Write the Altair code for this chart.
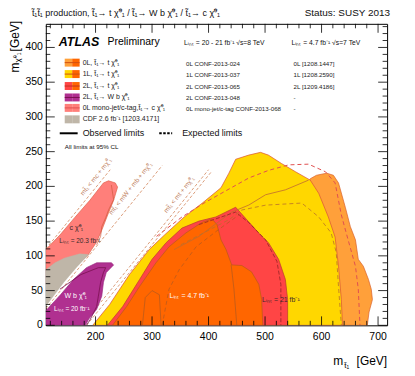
import altair as alt
import pandas as pd

FONT = "Liberation Sans"
W, H = 343, 303
XMIN, XMAX = 112, 716
YMIN, YMAX = 0, 434

T1 = "t\u0303\u2081"
CHI = "\u03c7\u0303\u2070\u2081"
LINT = "L\u1d62\u2099\u209c"
FB = "fb\u207b\u00b9"
ARR = "\u2192"

# ---------------- exclusion regions (GeV) ----------------
zl8_x = [580, 591, 609, 621, 630, 642, 651, 660, 665, 674, 683, 688, 690, 684, 681, 600, 590, 575]
zl8_y = [211, 216, 219, 216, 205, 170, 142, 123, 95, 85, 66, 52, 37, 19, 0, 0, 150, 205]
ol8_x = [195, 225, 260, 295, 322, 357, 389, 422, 436, 448, 471, 492, 506, 529, 554, 580, 595, 612, 624, 630, 635, 637]
ol8_y = [0, 30, 73, 109, 130, 156, 176, 198, 219, 239, 245, 249, 245, 233, 221, 209, 190, 156, 127, 85, 37, 0]
tl8_x = [221, 248, 278, 300, 325, 353, 383, 413, 448, 471, 492, 506, 524, 536, 540, 540]
tl8_y = [0, 27, 66, 95, 119, 140, 150, 156, 170, 149, 130, 119, 95, 66, 37, 0]
tev7_x = [230, 255, 278, 307, 330, 360, 388, 406, 415, 422, 431, 441, 459, 476, 489, 494, 496]
tev7_y = [0, 27, 56, 90, 113, 133, 148, 153, 145, 123, 109, 87, 86, 77, 59, 37, 0]
mono_x = [112, 137, 163, 190, 214, 223, 235, 239, 232, 223, 211, 202, 193, 186, 172, 145, 112]
mono_y = [109, 130, 155, 180, 205, 208, 205, 199, 180, 162, 137, 120, 109, 100, 92, 77, 59]
cdf_x = [112, 112, 128, 145, 172, 188, 167, 144, 121]
cdf_y = [27, 80, 90, 97, 103, 102, 84, 62, 37]
wb_x = [112, 138, 161, 184, 202, 228, 232, 219, 214, 211, 202, 188, 182, 112]
wb_y = [21, 44, 66, 83, 90, 90, 87, 76, 62, 42, 23, 9, 0, 0]

# ---------------- contour lines (GeV) ----------------
l1_x = [308, 353, 392, 427, 471, 506, 542, 577, 607, 624, 635, 647, 660, 665, 668]
l1_y = [128, 156, 176, 192, 212, 223, 231, 232, 221, 205, 159, 123, 85, 52, 0]
l2_x = [339, 383, 441, 471, 501, 536, 577]
l2_y = [109, 128, 163, 173, 188, 195, 209]
l3_x = [351, 436, 459, 501, 565, 595, 617, 626, 630, 635]
l3_y = [116, 152, 166, 173, 176, 156, 133, 105, 56, 0]
l4_x = [383, 448, 471, 501, 521, 528, 528]
l4_y = [145, 163, 148, 123, 92, 59, 0]
l5_x = [283, 288, 300, 313, 316]
l5_y = [0, 40, 50, 44, 0]
l6_x = [318, 330, 348, 378, 418, 454]
l6_y = [0, 52, 80, 113, 138, 159]
l9_x = [440, 445, 450]
l9_y = [87, 52, 0]
wbi_x = [137, 174, 205, 218, 214, 209, 205, 202, 191, 184]
wbi_y = [52, 73, 83, 83, 76, 62, 42, 27, 9, 0]
monoi_x = [228, 232, 223, 218, 211, 209, 202]
monoi_y = [202, 181, 166, 155, 142, 128, 116]

# kinematic boundaries (GeV endpoints)
kinA_x = [112, 226]; kinA_y = [110, 224]
kinB_x = [112, 318]; kinB_y = [24, 230]
kinC1_x = [176, 400]; kinC1_y = [0, 224]
kinC2_x = [184, 404]; kinC2_y = [0, 220]

x_major = [200, 300, 400, 500, 600, 700]
y_major = [0, 50, 100, 150, 200, 250, 300, 350, 400]

xs = alt.Scale(domain=[XMIN, XMAX], nice=False, zero=False)
ys = alt.Scale(domain=[YMIN, YMAX], nice=False, zero=False)
dummy = pd.DataFrame({"d": [0]})


def enc(ch):
    return ch.encode(x=alt.X("x:Q", scale=xs, axis=None),
                     y=alt.Y("y:Q", scale=ys, axis=None), order="i:Q")


def poly(xv, yv, fill, stroke, sw=0.7):
    xv = list(xv) + [xv[0]]
    yv = list(yv) + [yv[0]]
    df = pd.DataFrame({"x": xv, "y": yv, "i": list(range(len(xv)))})
    return enc(alt.Chart(df).mark_line(fill=fill, stroke=stroke, strokeWidth=sw, clip=True))


def line(xv, yv, color, sw=0.8, dash=None):
    df = pd.DataFrame({"x": xv, "y": yv, "i": list(range(len(xv)))})
    kw = dict(color=color, strokeWidth=sw, clip=True)
    if dash:
        kw["strokeDash"] = dash
    return enc(alt.Chart(df).mark_line(**kw))


def vtext(s, px, py, size=7, color="black", align="left", weight="normal", style="normal", angle=0, baseline="middle"):
    return alt.Chart(dummy).mark_text(text=s, fontSize=size, color=color, align=align, baseline=baseline,
                                      fontWeight=weight, fontStyle=style, angle=angle, font=FONT).encode(
        x=alt.value(px), y=alt.value(py))


def gtext(s, gx, gy, size=7, color="black", angle=0, align="center"):
    df = pd.DataFrame({"x": [gx], "y": [gy]})
    return alt.Chart(df).mark_text(text=s, fontSize=size, color=color, angle=angle, align=align,
                                   baseline="middle", font=FONT).encode(
        x=alt.X("x:Q", scale=xs, axis=None), y=alt.Y("y:Q", scale=ys, axis=None))


def vrect(x0, x1, y0, y1, color):
    return alt.Chart(dummy).mark_rect(color=color).encode(
        x=alt.value(x0), x2=alt.value(x1), y=alt.value(y0), y2=alt.value(y1))


def vhline(x0, x1, y, color, sw=1.0, dash=None):
    kw = dict(color=color, strokeWidth=sw)
    if dash:
        kw["strokeDash"] = dash
    return alt.Chart(dummy).mark_rule(**kw).encode(x=alt.value(x0), x2=alt.value(x1), y=alt.value(y))


layers = []
layers.append(poly(zl8_x, zl8_y, "#FFA03A", "#D9602A"))
layers.append(poly(ol8_x, ol8_y, "#FFD700", "#D9503A"))
layers.append(poly(tl8_x, tl8_y, "#FF4545", "#B8402A"))
layers.append(poly(tev7_x, tev7_y, "#FF6600", "#B85A1A"))
layers.append(line(l1_x, l1_y, "#E05050", 1.0, [4, 3]))
layers.append(line(l2_x, l2_y, "#C06A30", 0.8))
layers.append(line(l3_x, l3_y, "#B8702A", 0.8, [4, 3]))
layers.append(line(l4_x, l4_y, "#A02828", 0.9, [4, 2]))
layers.append(line(l5_x, l5_y, "#B05A20", 0.7))
layers.append(line(l6_x, l6_y, "#B05A20", 0.7, [4, 3]))
layers.append(line(l9_x, l9_y, "#B05A20", 0.7))

kin_col = "#D2845A"
layers.append(line(kinA_x, kinA_y, kin_col, 0.8, [3, 2]))
layers.append(line(kinB_x, kinB_y, kin_col, 0.8, [3, 2]))
layers.append(line(kinC1_x, kinC1_y, kin_col, 0.8, [3, 2]))
layers.append(line(kinC2_x, kinC2_y, kin_col, 0.8, [3, 2]))

layers.append(poly(mono_x, mono_y, "#FF7F7A", "#E0604A"))
layers.append(poly(cdf_x, cdf_y, "#BFB6A8", "#BFB6A8", 0.3))
layers.append(poly(wb_x, wb_y, "#B03090", "#9A2A80"))
layers.append(line(wbi_x, wbi_y, "#7A1050", 0.8))
layers.append(line(monoi_x, monoi_y, "#D05A40", 0.7))

# kinematic labels
klab = "#C08060"
layers.append(gtext(f"m{T1} < mc + m{CHI}", 201, 214, 6.5, klab, 309))
layers.append(gtext(f"m{T1} < mW + mb + m{CHI}", 262, 197, 6.5, klab, 309))
layers.append(gtext(f"m{T1} < mt + m{CHI}", 348, 188, 6.5, klab, 309))

# in-plot annotations
dark = "#3A2A2A"
layers.append(gtext(f"c {CHI}", 166, 140, 7, dark))
layers.append(gtext(f"{LINT} = 20.3 {FB}", 172, 122, 6.5, dark))
layers.append(gtext(f"W b {CHI}", 165, 42, 7, "white"))
layers.append(gtext(f"{LINT} = 20 {FB}", 158, 23, 6.5, "white"))
layers.append(gtext(f"{LINT} = 4.7 {FB}", 366, 42, 7, "white"))
layers.append(gtext(f"{LINT} = 21 {FB}", 528, 37, 7, dark))


# inward ticks
def xticks(vals, ln):
    df = pd.DataFrame({"x": vals})
    c = alt.Chart(df).mark_rule(color="black", strokeWidth=0.8)
    xe = alt.X("x:Q", scale=xs, axis=None)
    return [c.encode(x=xe, y=alt.value(H), y2=alt.value(H - ln)),
            c.encode(x=xe, y=alt.value(0), y2=alt.value(ln))]


def yticks(vals, ln):
    df = pd.DataFrame({"y": vals})
    c = alt.Chart(df).mark_rule(color="black", strokeWidth=0.8)
    ye = alt.Y("y:Q", scale=ys, axis=None)
    return [c.encode(y=ye, x=alt.value(0), x2=alt.value(ln)),
            c.encode(y=ye, x=alt.value(W), x2=alt.value(W - ln))]


x_minor = [v for v in range(120, 716, 20) if v not in x_major]
y_minor = [v for v in range(10, 434, 10) if v not in y_major]
layers += xticks(x_major, 9) + xticks(x_minor, 4.5) + yticks(y_major, 9) + yticks(y_minor, 4.5)

# tick labels
xl = pd.DataFrame({"x": x_major, "t": [str(v) for v in x_major]})
layers.append(alt.Chart(xl).mark_text(fontSize=10.5, font=FONT, color="black", baseline="middle").encode(
    x=alt.X("x:Q", scale=xs, axis=None), y=alt.value(H + 12), text="t:N"))
yl = pd.DataFrame({"y": y_major, "t": [str(v) for v in y_major]})
layers.append(alt.Chart(yl).mark_text(fontSize=10.5, font=FONT, color="black", baseline="middle", align="right").encode(
    y=alt.Y("y:Q", scale=ys, axis=None), x=alt.value(-3), text="t:N"))

# legend
rows = [39, 50.5, 62.5, 74, 84.5, 96]
leg_left = ["#FFA03A", "#FFD700", "#FF4545", "#B03090", "#FF7F7A", "#BFB6A8"]
leg_right = ["#FF6600", "#FF6600", "#FF6600", "#B03090", "#FF7F7A", "#BFB6A8"]
leg_line = ["#D05010", "#D05010", "#C03020", "#7A1050", "#E05050", None]
leg_text = [f"0L, {T1}{ARR} t {CHI}", f"1L, {T1}{ARR} t {CHI}", f"2L, {T1}{ARR} t {CHI}",
            f"2L, {T1}{ARR} W b {CHI}", f"0L mono-jet/c-tag,{T1}{ARR} c {CHI}", f"CDF 2.6 {FB} [1203.4171]"]
ref8 = ["0L CONF-2013-024", "1L CONF-2013-037", "2L CONF-2013-065", "2L CONF-2013-048",
        "0L mono-jet/c-tag CONF-2013-068", ""]
ref7 = ["0L [1208.1447]", "1L [1208.2590]", "2L [1209.4186]", "-", "-", ""]
for i, yc in enumerate(rows):
    layers.append(vrect(19, 26.5, yc - 4, yc + 4, leg_left[i]))
    layers.append(vrect(26.5, 34, yc - 4, yc + 4, leg_right[i]))
    if leg_line[i]:
        layers.append(vhline(19, 34, yc, leg_line[i], 1.0))
    layers.append(vtext(leg_text[i], 37, yc, 7, "#222"))
    if ref8[i]:
        layers.append(vtext(ref8[i], 141, yc + 1, 6.2, "#222"))
        layers.append(vtext(ref7[i], 249, yc + 1, 6.2, "#222"))

layers.append(vhline(14, 32, 110, "black", 2.0))
layers.append(vtext("Observed limits", 37, 110, 9, "#111"))
layers.append(vhline(114, 127, 110, "black", 2.0, [2.5, 1.5]))
layers.append(vtext("Expected limits", 137, 110, 9, "#111"))
layers.append(vtext("All limits at 95% CL", 19, 124, 6.3, "#111"))

layers.append(vtext("ATLAS", 13, 18, 12.5, "black", weight="bold", style="italic"))
layers.append(vtext("Preliminary", 62, 18, 10.5, "black"))
layers.append(vtext(f"{LINT} = 20 - 21 {FB} \u221as=8 TeV", 139, 19, 6.8, "#111"))
layers.append(vtext(f"{LINT} = 4.7 {FB} \u221as=7 TeV", 247, 19, 6.8, "#111"))

# titles
layers.append(vtext(f"{T1}{T1} production, {T1}{ARR} t {CHI} / {T1}{ARR} W b {CHI} / {T1}{ARR} c {CHI}",
                    -14, -11, 9, "#111"))
layers.append(vtext("Status: SUSY 2013", 346, -11, 10, "#111", align="right"))
layers.append(vtext("m", 289, 343, 12, "black", baseline="alphabetic"))
layers.append(vtext(T1, 300, 346, 8, "black", baseline="alphabetic"))
layers.append(vtext("[GeV]", 343, 343, 12, "black", align="right", baseline="alphabetic"))
layers.append(vtext("[GeV]", -31, -3, 12, "black", align="right", angle=270))
layers.append(vtext(CHI, -28, 29, 8, "black", align="right", angle=270))
layers.append(vtext("m", -31, 39, 12, "black", align="right", angle=270))

chart = alt.layer(*layers).properties(
    width=W, height=H,
    padding={"left": 38, "top": 15, "right": 20, "bottom": 45},
    autosize=alt.AutoSizeParams(type="none"),
).configure_view(stroke="black", strokeWidth=1)

chart.save("out.html", embed_options={"renderer": "svg", "actions": False})
